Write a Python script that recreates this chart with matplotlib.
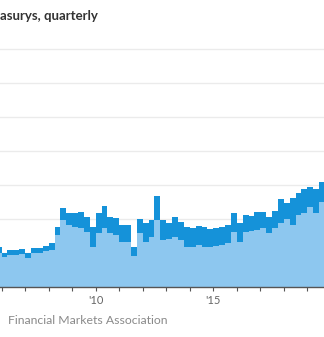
import numpy as np
import pandas as pd
import matplotlib
matplotlib.use("Agg")
import matplotlib.pyplot as plt

# Quarterly periods shown on the chart
quarters = pd.period_range("2005Q4", "2019Q3", freq="Q")

# Lower (light) component of each quarter
lower = [0.99, 0.87, 0.94, 0.94, 0.97, 0.84, 0.99, 1.01, 1.06, 1.09,
         1.53, 1.97, 1.82, 1.77, 1.73, 1.63, 1.19, 1.58, 1.73, 1.58,
         1.53, 1.33, 1.33, 0.91, 1.58, 1.33, 1.48, 1.97, 1.38, 1.40,
         1.48, 1.38, 1.19, 1.17, 1.24, 1.19, 1.19, 1.21, 1.24, 1.29,
         1.63, 1.33, 1.63, 1.66, 1.68, 1.73, 1.58, 1.75, 1.87, 1.99,
         1.82, 2.12, 2.17, 2.36, 2.18, 2.51]

# Total (lower + upper) for each quarter
total = [1.17, 0.99, 1.09, 1.09, 1.12, 0.99, 1.14, 1.16, 1.21, 1.29,
         1.77, 2.31, 2.19, 2.19, 2.21, 2.07, 1.77, 2.17, 2.38, 2.07,
         2.02, 1.82, 1.82, 1.19, 1.99, 1.87, 1.97, 2.68, 1.97, 1.87,
         2.07, 1.92, 1.76, 1.73, 1.79, 1.76, 1.70, 1.73, 1.77, 1.82,
         2.17, 1.87, 2.12, 2.09, 2.21, 2.21, 2.07, 2.25, 2.58, 2.48,
         2.61, 2.76, 2.87, 2.93, 2.87, 3.10]

tick_years = list(range(2006, 2020))
labeled_years = {2010: "'10", 2015: "'15"}

title_text = "asurys, quarterly"
source_text = "Financial Markets Association"

LIGHT = "#8dc7ef"
DARK = "#1592d9"

W, H = 324, 337
fig = plt.figure(figsize=(W / 100, H / 100), dpi=100)
fig.patch.set_facecolor("white")

# Axes placement in pixel terms: baseline at y=287, 34 px per unit
y_top_units = 7.3
px_per_unit = 34.0
ax_bottom = (H - 287) / H
ax_height = y_top_units * px_per_unit / H
ax = fig.add_axes([0, ax_bottom, 1, ax_height])

# Quarter edges as fractional years
starts = np.array([q.year + (q.quarter - 1) / 4 for q in quarters])
edges = np.append(starts, starts[-1] + 0.25)
lower_ext = np.append(lower, lower[-1])
total_ext = np.append(total, total[-1])

ax.fill_between(edges, 0, total_ext, step="post", color=DARK, linewidth=0, zorder=2)
ax.fill_between(edges, 0, lower_ext, step="post", color=LIGHT, linewidth=0, zorder=3)

# x scale: 2010 at x=95.7 px, 23.52 px per year
px_per_year = 23.52
x0 = 2010 - 95.7 / px_per_year
x1 = 2010 + (W - 95.7) / px_per_year
ax.set_xlim(x0, x1)
ax.set_ylim(0, y_top_units)

for v in range(1, 8):
    ax.axhline(v, color="#ebebeb", linewidth=1.0, zorder=1)

for s in ["top", "right", "left"]:
    ax.spines[s].set_visible(False)
ax.spines["bottom"].set_color("#555555")
ax.spines["bottom"].set_linewidth(1.0)
ax.spines["bottom"].set_zorder(5)

ax.set_yticks([])
ax.set_xticks(tick_years)
ax.set_xticklabels([labeled_years.get(y, "") for y in tick_years],
                   fontfamily="Lato")
ax.tick_params(axis="x", direction="out", length=3, width=0.8, color="#555555",
               labelsize=8, labelcolor="#666666", pad=3)
ax.set_facecolor("white")

fig.text(0.0, 1 - 16 / H, title_text, fontsize=9.5, fontweight="bold",
         fontfamily="Lato", color="#333333", ha="left", va="center")
fig.text(8 / W, 1 - 321 / H, source_text, fontsize=8.8, color="#8a8a8a",
         fontfamily="Lato", ha="left", va="center")

fig.savefig("out.png", dpi=100, facecolor="white")
